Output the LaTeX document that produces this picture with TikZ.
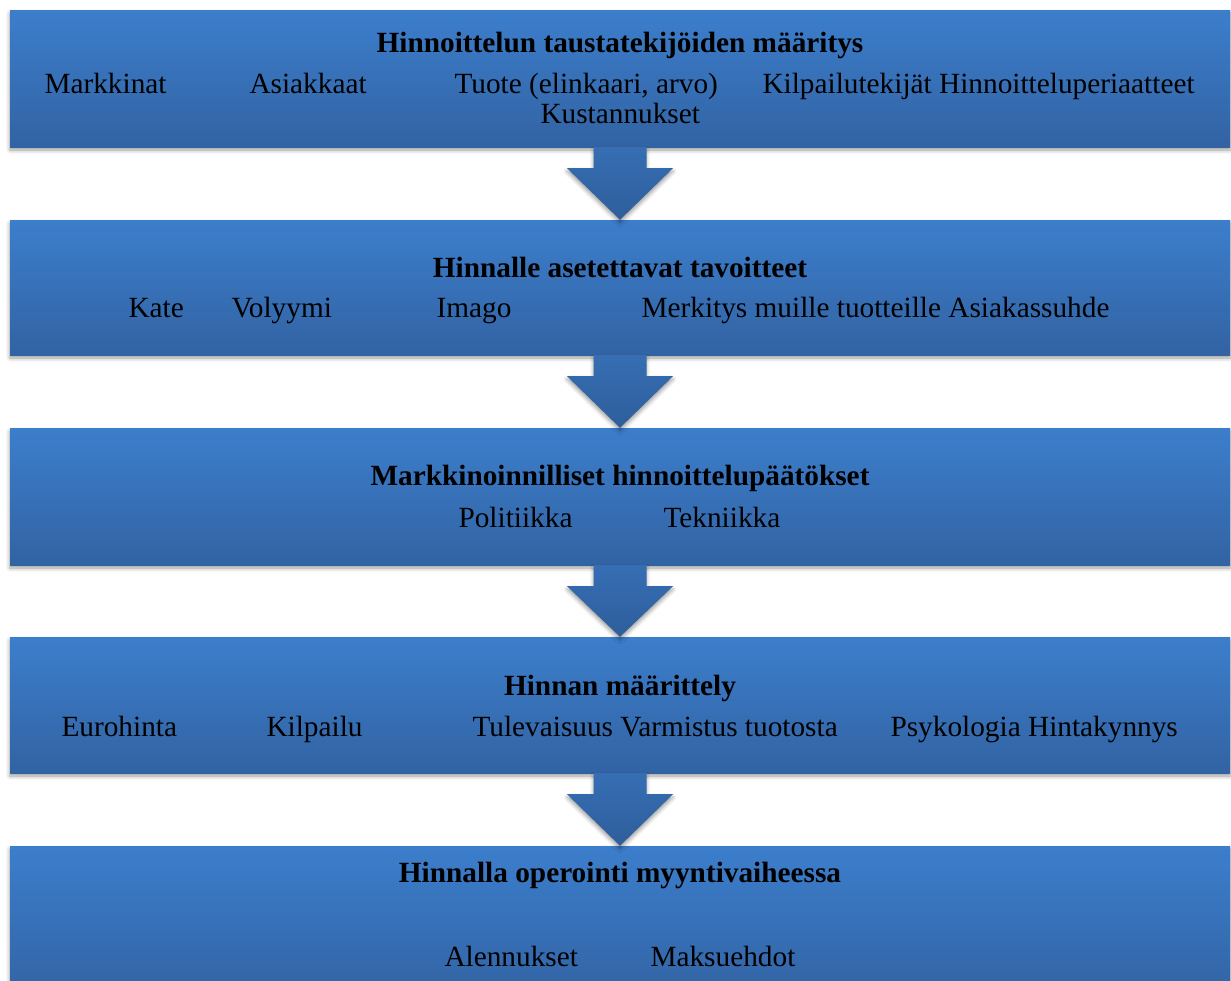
\documentclass[tikz,border=0pt]{standalone}
\usepackage{fontspec}
\setmainfont{Liberation Serif}
\usetikzlibrary{calc,shadows.blur}
\definecolor{boxtop}{RGB}{60,126,204}
\definecolor{boxbot}{RGB}{50,99,163}
\definecolor{arrtop}{RGB}{54,110,180}
\definecolor{arrbot}{RGB}{46,94,155}

\begin{document}
\begin{tikzpicture}[x=1pt, y=-1pt,
  stage/.style={rectangle, inner sep=0pt, minimum width=1220pt,
    top color=boxtop, bottom color=boxbot,
    blur shadow={shadow xshift=0pt, shadow yshift=-3pt, shadow opacity=40, shadow blur radius=4pt}},
  flow/.style={top color=arrtop, bottom color=arrbot,
    blur shadow={shadow xshift=0pt, shadow yshift=-3pt, shadow opacity=40, shadow blur radius=4pt}},
  title/.style={anchor=base, font=\fontsize{29.3}{34}\selectfont\bfseries},
  item/.style={anchor=base west, font=\fontsize{29.3}{34}\selectfont}]
   \useasboundingbox (0,0) rectangle (1231,980);
   \clip (0,0) rectangle (1231,980);
   % stages
   \node[stage, minimum height=137pt] (taustat) at (620,78.5) {};
   \node[stage, minimum height=135pt] (tavoitteet) at (620,287.5) {};
   \node[stage, minimum height=137pt] (paatokset) at (620,496.5) {};
   \node[stage, minimum height=136pt] (maarittely) at (620,705) {};
   \node[stage, minimum height=154pt] (operointi) at (620,923) {};
   % block arrows
   \foreach \a/\b in {taustat/tavoitteet, tavoitteet/paatokset, paatokset/maarittely, maarittely/operointi}
    \path[flow] ($(\a.south)+(-26.5,0)$) -- ($(\a.south)+(-26.5,21)$) -- ($(\a.south)+(-53,21)$)
      -- (\b.north) -- ($(\a.south)+(53,21)$) -- ($(\a.south)+(26.5,21)$) -- ($(\a.south)+(26.5,0)$) -- cycle;
   % texts
   \node[title] (t1) at (620,52) {Hinnoittelun taustatekijöiden määritys};
   \node[item] (markkinat) at (41,93) {Markkinat};
   \node[item] (asiakkaat) at (246,93) {Asiakkaat};
   \node[item] (tuote) at (451,93) {Tuote (elinkaari, arvo)};
   \node[item] (kilpailut) at (759,93) {Kilpailutekijät Hinnoitteluperiaatteet};
   \node[item] (kustannukset) at (537,123) {Kustannukset};

   \node[title] (t2) at (620,277) {Hinnalle asetettavat tavoitteet};
   \node[item] (kate) at (125,317) {Kate};
   \node[item] (volyymi) at (228,317) {Volyymi};
   \node[item] (imago) at (433,317) {Imago};
   \node[item] (merkitys) at (638,317) {Merkitys muille tuotteille Asiakassuhde};

   \node[title] (t3) at (620,485) {Markkinoinnilliset hinnoittelupäätökset};
   \node[item] (politiikka) at (455,527) {Politiikka};
   \node[item] (tekniikka) at (660,527) {Tekniikka};

   \node[title] (t4) at (620,695) {Hinnan määrittely};
   \node[item] (eurohinta) at (58,736) {Eurohinta};
   \node[item] (kilpailu) at (263,736) {Kilpailu};
   \node[item] (tulevaisuus) at (469,736) {Tulevaisuus Varmistus tuotosta};
   \node[item] (psykologia) at (887,736) {Psykologia Hintakynnys};

   \node[title] (t5) at (620,882) {Hinnalla operointi myyntivaiheessa};
   \node[item] (alennukset) at (441,966) {Alennukset};
   \node[item] (maksuehdot) at (647,966) {Maksuehdot};
\end{tikzpicture}
\end{document}
